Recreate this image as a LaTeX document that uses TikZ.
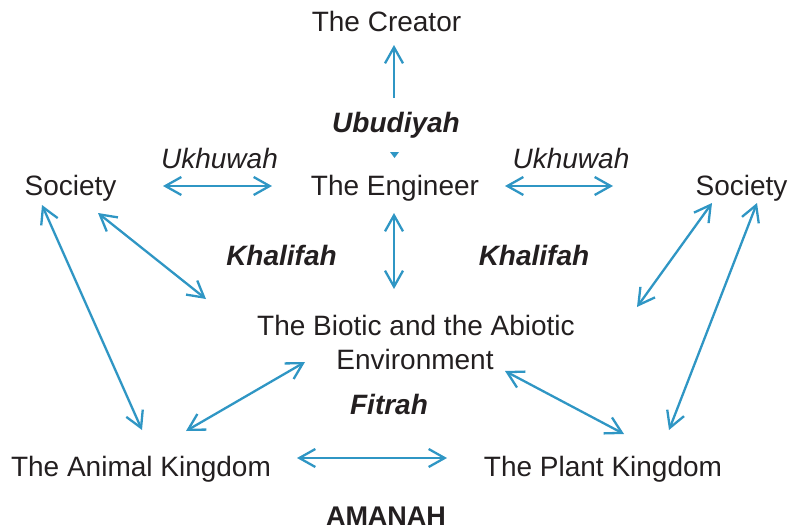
\documentclass[tikz,border=0pt]{standalone}
\usepackage{fontspec}
\setmainfont{Liberation Sans}
\usetikzlibrary{arrows.meta}
\definecolor{ink}{HTML}{231F20}
\definecolor{link}{HTML}{2F96C4}
\begin{document}
\begin{tikzpicture}[x=1pt,y=-1pt,
  lbl/.style={font=\fontsize{28}{34}\selectfont, text=ink, inner sep=0pt, anchor=base},
  virtue/.style={font=\fontsize{28}{34}\selectfont\bfseries\itshape, text=ink, inner sep=0pt, anchor=base},
  bond/.style={font=\fontsize{28}{34}\selectfont\itshape, text=ink, inner sep=0pt, anchor=base},
  link2/.style={draw=link, line width=2.3pt, {Straight Barb[length=16pt,width=18pt]}-{Straight Barb[length=16pt,width=18pt]}},
  link1/.style={draw=link, line width=2.3pt, -{Straight Barb[length=16pt,width=18pt]}}]
\useasboundingbox (0,0) rectangle (788,530);

% entities
\node[lbl] (creator) at (386.5,31) {The Creator};
\node[lbl] (eng) at (395,195) {The Engineer};
\node[lbl] (socL) at (70.5,195) {Society};
\node[lbl] (socR) at (741.5,195) {Society};
\node[lbl] (env1) at (416,335) {The Biotic and the Abiotic};
\node[lbl] (env2) at (415,369) {Environment};
\node[lbl] (animal) at (141,476) {The Animal Kingdom};
\node[lbl] (plant) at (603,476) {The Plant Kingdom};

% relations
\node[virtue] (ubu) at (396,132) {Ubudiyah};
\node[bond] (ukL) at (219.5,168) {Ukhuwah};
\node[bond] (ukR) at (571,168) {Ukhuwah};
\node[virtue] (khL) at (281.5,265) {Khalifah};
\node[virtue] (khR) at (534,265) {Khalifah};
\node[virtue] (fitrah) at (389,414) {Fitrah};
\node[virtue, font=\fontsize{27}{32}\selectfont\bfseries] (amanah) at (386,525) {AMANAH};

% connectors
\draw[link1] ([shift={(-2,-34)}]ubu.base) -- ([shift={(7.5,14)}]creator.base);
\fill[link] ([shift={(-6,20)}]ubu.base) -- ([shift={(3,20)}]ubu.base) -- ([shift={(-1.5,26)}]ubu.base) -- cycle;
\draw[link2] ([shift={(92.5,-9)}]socL.base) -- ([shift={(-123,-9)}]eng.base);
\draw[link2] ([shift={(110,-9)}]eng.base) -- ([shift={(-128.5,-9)}]socR.base);
\draw[link2] ([shift={(-1,18)}]eng.base) -- ([shift={(-22,-46)}]env1.base);
\draw[link2] ([shift={(27.5,18)}]socL.base) -- ([shift={(-210,-36)}]env1.base);
\draw[link2] ([shift={(-29.5,8)}]socR.base) -- ([shift={(221,-28)}]env1.base);
\draw[link2] ([shift={(-28.5,10)}]socL.base) -- ([shift={(1,-46)}]animal.base);
\draw[link2] ([shift={(15.5,8)}]socR.base) -- ([shift={(66,-46)}]plant.base);
\draw[link2] ([shift={(45,-45)}]animal.base) -- ([shift={(-110,-7)}]env2.base);
\draw[link2] ([shift={(90,2)}]env2.base) -- ([shift={(21,-42)}]plant.base);
\draw[link2] ([shift={(156,-18)}]animal.base) -- ([shift={(-156,-18)}]plant.base);
\end{tikzpicture}
\end{document}
